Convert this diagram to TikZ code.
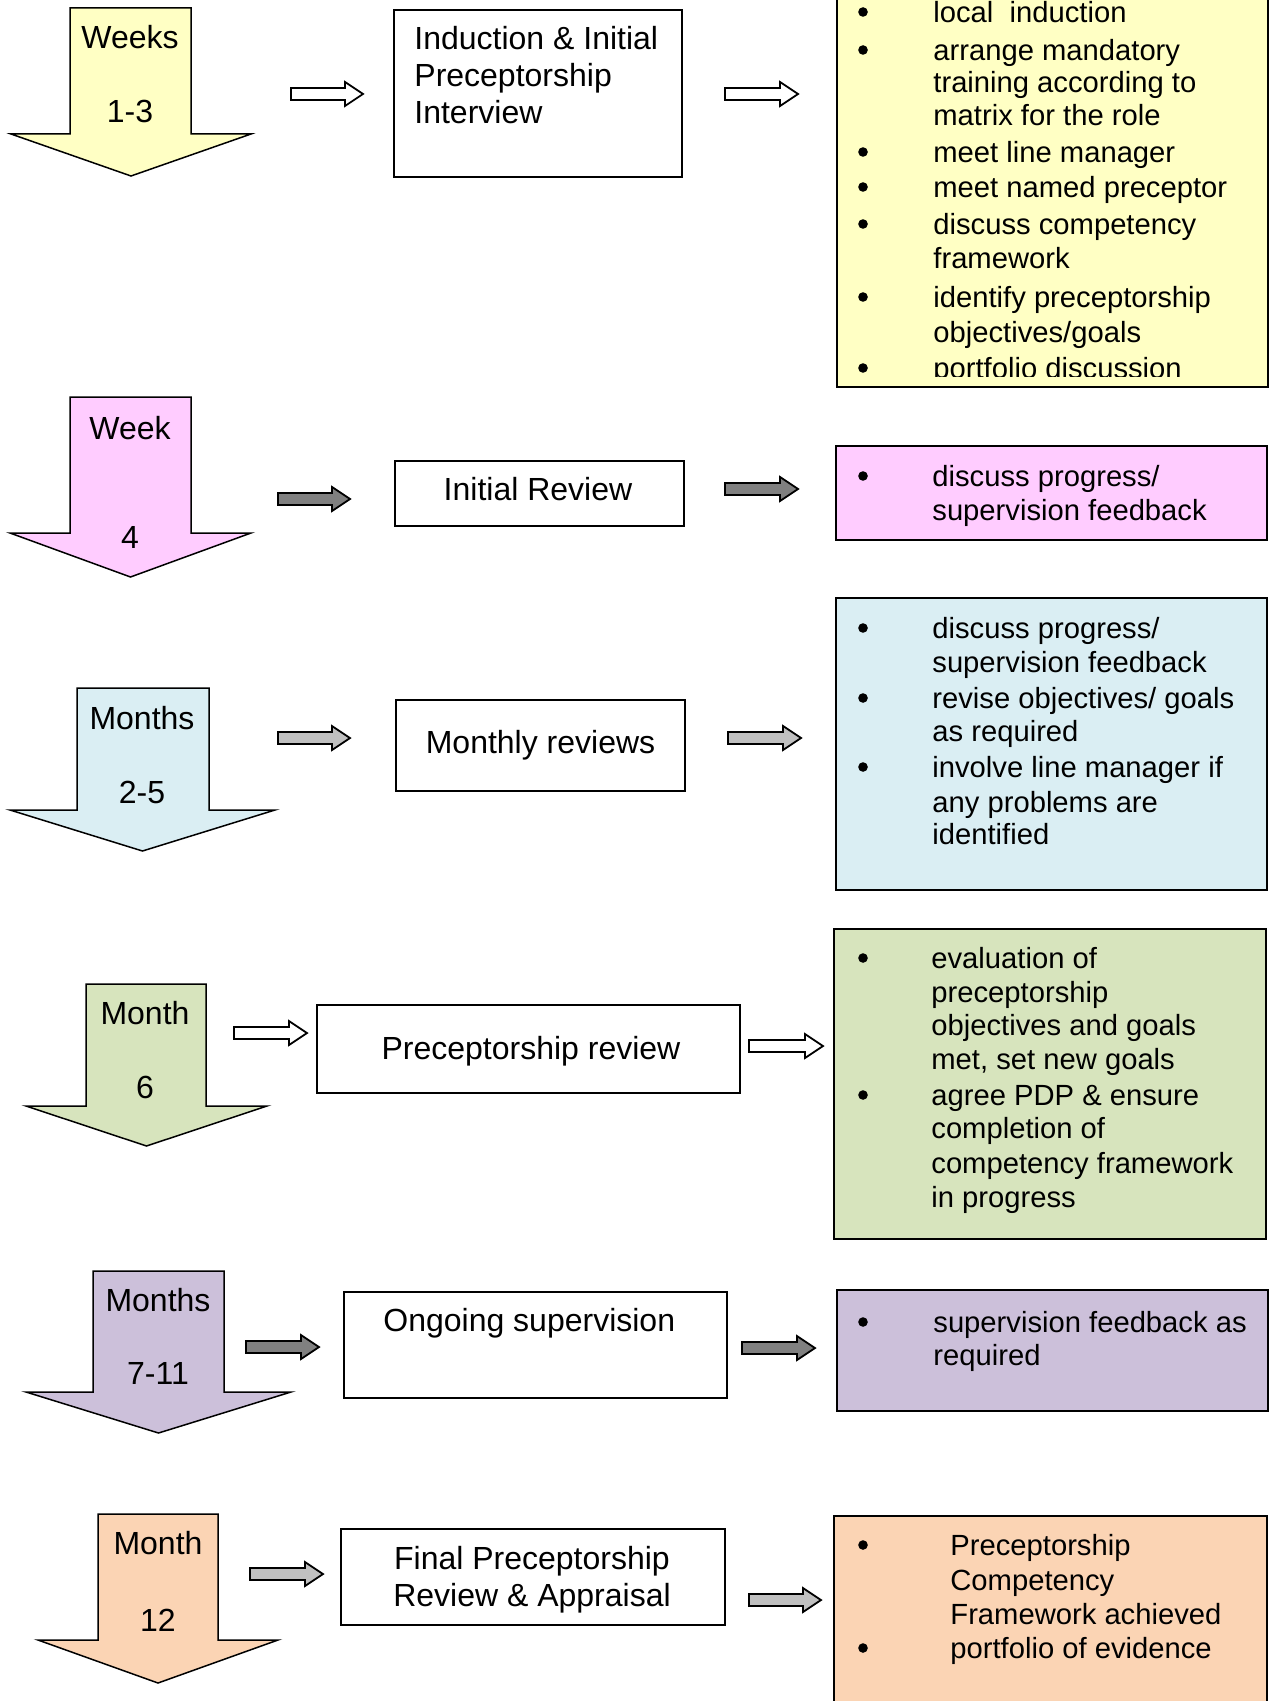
\documentclass[tikz,border=0pt]{standalone}
\usepackage{fontspec}
\setmainfont{Liberation Sans}
\definecolor{cyel}{HTML}{FFFFC4}
\definecolor{cpink}{HTML}{FFCCFF}
\definecolor{cblue}{HTML}{DAEEF3}
\definecolor{cgreen}{HTML}{D7E4BD}
\definecolor{cpurp}{HTML}{CCC0DA}
\definecolor{corange}{HTML}{FBD4B4}
\definecolor{dgray}{HTML}{808080}
\definecolor{lgray}{HTML}{C0C0C0}
\newcommand\BigArrow[8]{\draw[bigarr,fill=#8] (#1,#3) -- (#2,#3) -- (#2,#4) -- (#6,#4) -- ({(#5+#6)/2},#7) -- (#5,#4) -- (#1,#4) -- cycle;}
\newcommand\SmallArrow[4]{\draw[sarr,fill=#4] (#1,{#3-6}) -- ({#2-18},{#3-6}) -- ({#2-18},{#3-12}) -- (#2,#3) -- ({#2-18},{#3+12}) -- ({#2-18},{#3+6}) -- (#1,{#3+6}) -- cycle;}
\newcommand\MyBox[6]{\node[box,anchor=north west,minimum width={(#4-#2)*0.5pt},minimum height={(#5-#3)*0.5pt}] (#1) at (#2,#3) {#6};}
\newcommand\Bul[1]{\fill (863,#1) circle[radius=4.8];}
\newcommand\Txt[4]{\node[btxt] (#1) at (#2,#3) {#4};}
\begin{document}
\begin{tikzpicture}[x=0.5pt,y=-0.5pt,
  box/.style={draw,line width=1pt,fill=white,inner sep=0pt,font=\fontsize{16}{18.5}\selectfont},
  infobox/.style={draw,line width=1pt},
  bigarr/.style={draw,line width=0.75pt},
  sarr/.style={draw,line width=0.9pt},
  lbl/.style={font=\fontsize{16}{18.5}\selectfont,inner sep=0pt},
  lblw/.style={lbl,anchor=mid west},
  btxt/.style={font=\fontsize{14.6}{17}\selectfont,inner sep=0pt,anchor=mid west,yshift=-2.4pt},
]
\clip (0,0) rectangle (1275,1701);
\fill[white] (0,0) rectangle (1275,1701);

% ---------- Row 1 ----------
\BigArrow{70}{191}{8}{134}{11}{251}{176}{cyel}
\node[lbl] (w1a) at (130,37) {Weeks};
\node[lbl] (w1b) at (130,111) {1-3};
\SmallArrow{291}{363}{94}{white}
\MyBox{b1}{393}{9}{681}{176}{}
\node[lblw] (b1a) at (414,44.5) {Induction \& Initial};
\node[lblw] (b1b) at (414,81.5) {Preceptorship};
\node[lblw] (b1c) at (414,118.5) {Interview};
\SmallArrow{725}{798}{94}{white}
\draw[infobox,fill=cyel] (837,-20) rectangle (1268,387);
\begin{scope}
\clip (837,-20) rectangle (1268,377);
\Bul{12}\Txt{y1}{933}{12}{local\ \ induction}
\Bul{50}\Txt{y2}{933}{50}{arrange mandatory}
\Txt{y3}{933}{82}{training according to}
\Txt{y4}{933}{115}{matrix for the role}
\Bul{152}\Txt{y5}{933}{152}{meet line manager}
\Bul{187}\Txt{y6}{933}{187}{meet named preceptor}
\Bul{224}\Txt{y7}{933}{224}{discuss competency}
\Txt{y8}{933}{258}{framework}
\Bul{297}\Txt{y9}{933}{297}{identify preceptorship}
\Txt{y10}{933}{332}{objectives/goals}
\Bul{368}\Txt{y11}{933}{368}{portfolio discussion}
\end{scope}

% ---------- Row 2 ----------
\BigArrow{70}{191}{397}{533}{10}{251}{577}{cpink}
\node[lbl] (w2a) at (130,428) {Week};
\node[lbl] (w2b) at (130,537) {4};
\SmallArrow{278}{350}{499}{dgray}
\MyBox{b2}{394}{460}{683}{525}{}
\node[lbl] (b2t) at (538,489) {Initial Review};
\SmallArrow{725}{798}{489}{dgray}
\draw[infobox,fill=cpink] (836,446) rectangle (1267,540);
\Bul{476}\Txt{p1}{932}{476}{discuss progress/}
\Txt{p2}{932}{510}{supervision feedback}

% ---------- Row 3 ----------
\BigArrow{77}{209}{688}{810}{10}{275}{851}{cblue}
\node[lbl] (w3a) at (142,718) {Months};
\node[lbl] (w3b) at (142,792) {2-5};
\SmallArrow{278}{350}{738}{lgray}
\MyBox{b3}{395}{699}{684}{790}{Monthly reviews}
\SmallArrow{728}{801}{738}{lgray}
\draw[infobox,fill=cblue] (836,598) rectangle (1267,890);
\Bul{628}\Txt{c1}{932}{628}{discuss progress/}
\Txt{c2}{932}{662}{supervision feedback}
\Bul{698}\Txt{c3}{932}{698}{revise objectives/ goals}
\Txt{c4}{932}{731}{as required}
\Bul{767}\Txt{c5}{932}{767}{involve line manager if}
\Txt{c6}{932}{802}{any problems are}
\Txt{c7}{932}{834}{identified}

% ---------- Row 4 ----------
\BigArrow{86}{206}{984}{1106}{26}{267}{1146}{cgreen}
\node[lbl] (w4a) at (145,1013) {Month};
\node[lbl] (w4b) at (145,1087) {6};
\SmallArrow{234}{307}{1033}{white}
\MyBox{b4}{316}{1004}{739}{1092}{}
\node[lbl] (b4t) at (531,1051) {Preceptorship review};
\SmallArrow{749}{823}{1046}{white}
\draw[infobox,fill=cgreen] (834,929) rectangle (1266,1239);
\Bul{958}\Txt{g1}{931}{958}{evaluation of}
\Txt{g2}{931}{992}{preceptorship}
\Txt{g3}{931}{1025}{objectives and goals}
\Txt{g4}{931}{1059}{met, set new goals}
\Bul{1095}\Txt{g5}{931}{1095}{agree PDP \& ensure}
\Txt{g6}{931}{1128}{completion of}
\Txt{g7}{931}{1163}{competency framework}
\Txt{g8}{931}{1197}{in progress}

% ---------- Row 5 ----------
\BigArrow{93}{224}{1271}{1392}{26}{291}{1433}{cpurp}
\node[lbl] (w5a) at (158,1300) {Months};
\node[lbl] (w5b) at (158,1373) {7-11};
\SmallArrow{246}{319}{1347}{dgray}
\MyBox{b5}{343}{1291}{726}{1397}{}
\node[lblw] (b5a) at (383,1326) {Ongoing supervision};
\SmallArrow{742}{815}{1348}{dgray}
\draw[infobox,fill=cpurp] (837,1290) rectangle (1268,1411);
\Bul{1322}\Txt{u1}{933}{1322}{supervision feedback as}
\Txt{u2}{933}{1355}{required}

% ---------- Row 6 ----------
\BigArrow{98}{218}{1514}{1640}{38}{278}{1683}{corange}
\node[lbl] (w6a) at (158,1543) {Month};
\node[lbl] (w6b) at (158,1620) {12};
\SmallArrow{250}{323}{1574}{lgray}
\MyBox{b6}{340}{1528}{724}{1624}{}
\node[lbl,anchor=base] (b6a) at (532,1569.5) {Final Preceptorship};
\node[lbl,anchor=base] (b6b) at (532,1606.5) {Review \& Appraisal};
\SmallArrow{749}{821}{1600}{lgray}
\draw[infobox,fill=corange] (834,1516) rectangle (1267,1740);
\Bul{1545}\Txt{o1}{950}{1545}{Preceptorship}
\Txt{o2}{950}{1580}{Competency}
\Txt{o3}{950}{1614}{Framework achieved}
\Bul{1648}\Txt{o4}{950}{1648}{portfolio of evidence}
\end{tikzpicture}
\end{document}
